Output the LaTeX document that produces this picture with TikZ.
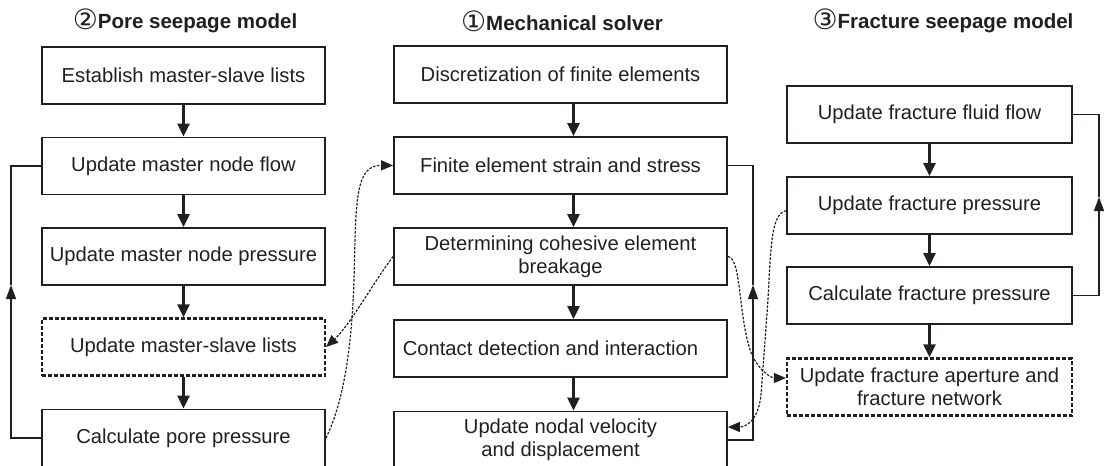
\documentclass[tikz,border=0pt]{standalone}
\usepackage{fontspec}
\setmainfont{Liberation Sans}
\newfontfamily\circfont{DejaVu Sans}
\usetikzlibrary{arrows.meta,calc}
\definecolor{ink}{RGB}{35,31,32}
\newcommand{\circd}[1]{{\circfont\fontsize{28}{23}\selectfont\raisebox{-1pt}{#1}}}
\begin{document}
\begin{tikzpicture}[x=1pt,y=-1pt,
  box/.style={draw=ink, text=ink, line width=1.8pt, minimum height=57pt, inner sep=2pt, align=center, font=\fontsize{20.2}{23}\selectfont},
  lbox/.style={box, minimum width=283pt},
  mbox/.style={box, minimum width=333pt},
  rbox/.style={box, minimum width=285pt},
  dbox/.style={line width=2.2pt, dash pattern=on 4pt off 2pt},
  flow/.style={draw=ink, line width=2.4pt, -{Triangle[length=13pt,width=12pt]}},
  loopline/.style={draw=ink, line width=1.2pt},
  looparr/.style={loopline, -{Triangle[length=14pt,width=10pt]}},
  dotarr/.style={draw=ink, line width=1.2pt, dash pattern=on 2.5pt off 1.5pt, -{Triangle[length=12pt,width=10pt]}},
  title/.style={text=ink, font=\fontsize{20.5}{23}\selectfont, inner sep=0pt}
]
\useasboundingbox (0,0) rectangle (1104,466);

% titles
\node[title] (t2) at (185,21) {\circd{②}\textbf{Pore seepage model}};
\node[title] (t1) at (562,21) {\circd{①}\textbf{Mechanical solver}};
\node[title] (t3) at (943,21) {\circd{③}\textbf{Fracture seepage model}};

% left column
\node[lbox] (L1) at (183.5,75.5) {Establish master-slave lists};
\node[lbox] (L2) at (183.5,166) {Update master node flow};
\node[lbox] (L3) at (183.5,256.5) {Update master node pressure};
\node[lbox,dbox] (L4) at (183.5,347) {Update master-slave lists};
\node[lbox] (L5) at (183.5,438) {Calculate pore pressure};

% middle column
\node[mbox] (M1) at (560.5,74.5) {Discretization of finite elements};
\node[mbox] (M2) at (560.5,165.5) {Finite element strain and stress};
\node[mbox] (M3) at (560.5,256.5) {Determining cohesive element\\breakage};
\node[mbox] (M4) at (560.5,348.5) {\hspace*{-20pt}Contact detection and interaction};
\node[mbox] (M5) at (560.5,440) {Update nodal velocity\\and displacement};

% right column
\node[rbox] (R1) at (929.5,114.5) {Update fracture fluid flow};
\node[rbox] (R2) at (929.5,205.5) {Update fracture pressure};
\node[rbox] (R3) at (929.5,295.5) {Calculate fracture pressure};
\node[rbox,dbox] (R4) at (929.5,387) {Update fracture aperture and\\fracture network};

% vertical flow arrows
\draw[flow] (L1) -- (L2);
\draw[flow] (L2) -- (L3);
\draw[flow] (L3) -- (L4);
\draw[flow] (L4) -- (L5);
\draw[flow] ($(M1.south)+(13,0)$) -- ($(M2.north)+(13,0)$);
\draw[flow] ($(M2.south)+(13,0)$) -- ($(M3.north)+(13,0)$);
\draw[flow] ($(M3.south)+(13,0)$) -- ($(M4.north)+(13,0)$);
\draw[flow] ($(M4.south)+(13,0)$) -- ($(M5.north)+(13,0)$);
\draw[flow] (R1) -- (R2);
\draw[flow] (R2) -- (R3);
\draw[flow] (R3) -- (R4);

% loops
\coordinate (lla) at (11,285);
\draw[looparr] (L5.west) -| (lla);
\draw[loopline] (lla) |- (L2.west);
\coordinate (mla) at (753,285);
\draw[looparr] (M5.east) -| (mla);
\draw[loopline] (mla) |- (M2.east);
\coordinate (rla) at (1099,197);
\draw[looparr] (R3.east) -| (rla);
\draw[loopline] (rla) |- (R1.east);

% dotted couplings
\draw[dotarr] (L5.east) .. controls (345,400) and (352,340) .. (354,280) .. controls (356,200) and (355,165) .. (M2.west);
\draw[dotarr] (M3.west) .. controls (375,280) and (350,325) .. (L4.east);
\draw[dotarr] (M3.east) .. controls (742,258) and (738,320) .. (752,355) .. controls (760,372) and (772,378) .. ($(R4.west)+(0,-9)$);
\draw[dotarr] ($(R2.west)+(0,5)$) .. controls (772,214) and (771,240) .. (768,300) -- (761,395) .. controls (758,422) and (745,427) .. ($(M5.east)+(0,-13)$);
\end{tikzpicture}
\end{document}
